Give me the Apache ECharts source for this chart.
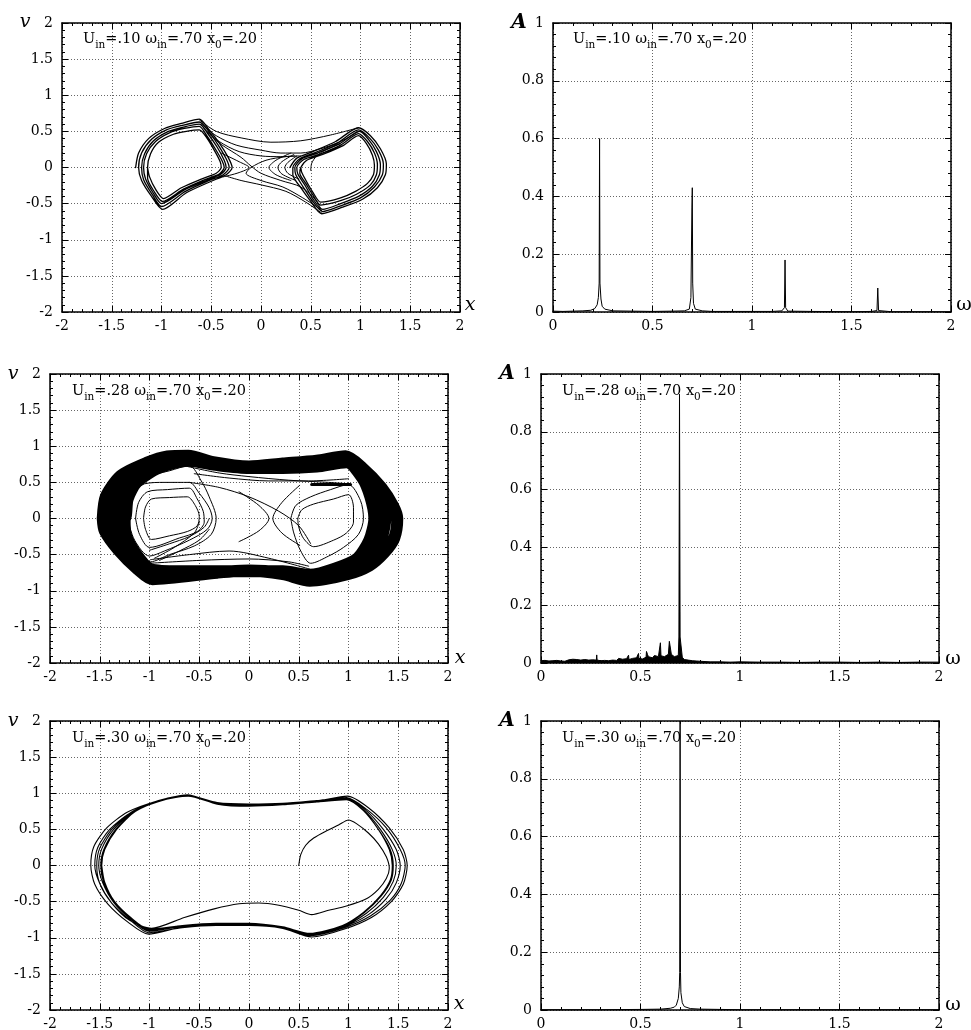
<!DOCTYPE html>
<html>
<head>
<meta charset="utf-8">
<title>Phase portraits and spectra</title>
<script src="https://cdn.jsdelivr.net/npm/echarts/dist/echarts.min.js"></script>
<style>
  html, body { margin: 0; padding: 0; background: #fff; }
  #container { width: 971px; height: 1030px; }
</style>
</head>
<body>
<div id="container"></div>
<script type="text/javascript">

// ---- data ----
var uIn = ['.10', '.28', '.30'];
var omegaIn = '.70';
var x0 = '.20';

var phaseRange = [-2, 2];   // x and v axes of the left panels
var phaseStep = 0.5;
var omegaRange = [0, 2];
var omegaStep = 0.5;
var ampRange = [0, 1];
var ampStep = 0.2;

// U = .10 : left well, several turns
var phase10Left = [
  [-1.26,0],[-1.23,0.2],[-1.13,0.4],[-0.97,0.54],[-0.8,0.61],[-0.62,0.67],[-0.52,0.52],[-0.42,0.34],[-0.33,0.14],[-0.29,0],[-0.35,-0.1],[-0.5,-0.19],[-0.75,-0.35],[-0.99,-0.58],[-1.1,-0.4],[-1.2,-0.18],
  [-1.23,0],[-1.2,0.2],[-1.1,0.39],[-0.95,0.52],[-0.8,0.58],[-0.62,0.63],[-0.52,0.49],[-0.43,0.31],[-0.35,0.12],[-0.32,0],[-0.38,-0.1],[-0.52,-0.18],[-0.76,-0.33],[-1.0,-0.54],[-1.09,-0.38],[-1.18,-0.17],
  [-1.2,0],[-1.17,0.19],[-1.08,0.37],[-0.93,0.5],[-0.78,0.56],[-0.62,0.6],[-0.53,0.46],[-0.44,0.28],[-0.37,0.1],[-0.35,0],[-0.4,-0.09],[-0.55,-0.18],[-0.77,-0.31],[-1.0,-0.5],[-1.08,-0.36],[-1.16,-0.16],
  [-1.18,0],[-1.15,0.19],[-1.06,0.36],[-0.92,0.48],[-0.77,0.54],[-0.62,0.57],[-0.54,0.43],[-0.46,0.26],[-0.39,0.09],[-0.37,0],[-0.42,-0.09],[-0.57,-0.17],[-0.78,-0.3],[-0.99,-0.47],[-1.07,-0.34],[-1.14,-0.15],
  [-1.14,0],[-1.11,0.19],[-1.03,0.35],[-0.88,0.46],[-0.75,0.5],[-0.62,0.52],[-0.54,0.4],[-0.47,0.24],[-0.41,0.08],[-0.4,0],[-0.45,-0.08],[-0.6,-0.16],[-0.8,-0.28],[-0.98,-0.43],[-1.06,-0.3],[-1.12,-0.13],[-1.14,0]
];
// U = .10 : right well
var phase10Right = [
  [0.29,0],[0.36,0.13],[0.52,0.22],[0.75,0.36],[0.98,0.55],[1.1,0.44],[1.2,0.26],[1.26,0.05],[1.25,-0.1],[1.17,-0.28],[1.02,-0.44],[0.82,-0.55],[0.61,-0.64],[0.5,-0.47],[0.4,-0.28],[0.32,-0.1],
  [0.32,0],[0.39,0.12],[0.55,0.21],[0.77,0.34],[0.98,0.52],[1.09,0.41],[1.18,0.24],[1.23,0.05],[1.22,-0.1],[1.14,-0.27],[1.0,-0.42],[0.8,-0.53],[0.62,-0.61],[0.51,-0.45],[0.42,-0.26],[0.35,-0.1],
  [0.34,0],[0.41,0.12],[0.57,0.2],[0.79,0.33],[0.99,0.5],[1.08,0.39],[1.16,0.22],[1.2,0.04],[1.19,-0.1],[1.12,-0.26],[0.98,-0.4],[0.8,-0.5],[0.62,-0.58],[0.52,-0.43],[0.44,-0.24],[0.37,-0.09],
  [0.36,0],[0.43,0.11],[0.6,0.19],[0.8,0.31],[0.98,0.47],[1.07,0.36],[1.14,0.2],[1.17,0.04],[1.16,-0.1],[1.1,-0.24],[0.96,-0.37],[0.8,-0.46],[0.6,-0.52],[0.52,-0.38],[0.45,-0.22],[0.39,-0.08],
  [0.4,0],[0.46,0.1],[0.62,0.18],[0.82,0.3],[0.98,0.44],[1.06,0.33],[1.12,0.17],[1.14,0.03],[1.13,-0.1],[1.07,-0.22],[0.95,-0.33],[0.8,-0.42],[0.6,-0.48],[0.52,-0.34],[0.46,-0.2],[0.41,-0.07],[0.4,0]
];
// U = .10 : crossings between the wells
var phase10Paths = [
  [[-0.62,0.66],[-0.45,0.5],[-0.2,0.41],[0.1,0.35],[0.4,0.37],[0.7,0.45],[0.98,0.55]],
  [[-0.6,0.6],[-0.45,0.44],[-0.25,0.31],[0,0.24],[0.2,0.2],[0.4,0.2],[0.6,0.26],[0.8,0.36],[0.98,0.5]],
  [[-0.58,0.55],[-0.42,0.36],[-0.22,0.22],[0,0.16],[0.2,0.15],[0.34,0.16]],
  [[-0.55,0.5],[-0.4,0.32],[-0.2,0.14],[-0.1,0.02],[0,-0.08],[0.2,-0.18],[0.4,-0.27],[0.55,-0.45],[0.61,-0.6]],
  [[0.61,-0.63],[0.45,-0.48],[0.25,-0.33],[0,-0.24],[-0.2,-0.18],[-0.35,-0.12]],
  [[0.6,-0.58],[0.42,-0.42],[0.22,-0.27],[0,-0.18],[-0.15,-0.08],[-0.1,0],[0.05,0.1],[0.25,0.15],[0.4,0.16]],
  [[-0.4,0.2],[-0.22,0.08],[-0.12,0],[-0.22,-0.07],[-0.38,-0.13]],
  [[0.3,0.2],[0.15,0.1],[0.08,0],[0.15,-0.1],[0.3,-0.18]],
  [[0.33,0.18],[0.21,0.08],[0.17,0],[0.21,-0.09],[0.35,-0.18]],
  [[0.36,0.16],[0.27,0.07],[0.24,0],[0.27,-0.08],[0.38,-0.16]],
  [[0.5,-0.04],[0.51,0.06],[0.56,0.16],[0.66,0.25],[0.8,0.33]]
];

// U = .28 : the dense outer band (three passes drawn wide)
var phase28Band = [
  [-1.47,0],[-1.44,0.3],[-1.29,0.59],[-1.03,0.77],[-0.82,0.86],[-0.61,0.87],[-0.36,0.78],[0,0.72],[0.34,0.76],[0.68,0.8],[0.97,0.86],[1.14,0.7],[1.33,0.43],[1.45,0.17],[1.49,0],[1.46,-0.27],[1.36,-0.47],[1.21,-0.65],[0.99,-0.77],[0.61,-0.86],[0.34,-0.77],[0,-0.72],[-0.32,-0.75],[-0.97,-0.84],[-1.12,-0.7],[-1.31,-0.44],[-1.45,-0.17],[-1.47,0],
  [-1.36,0],[-1.33,0.29],[-1.21,0.55],[-0.97,0.74],[-0.75,0.83],[-0.61,0.84],[-0.34,0.76],[0,0.71],[0.34,0.73],[0.68,0.76],[0.97,0.82],[1.14,0.63],[1.28,0.37],[1.35,0.15],[1.37,0],[1.33,-0.28],[1.23,-0.51],[1.1,-0.66],[0.93,-0.74],[0.61,-0.82],[0.34,-0.75],[0,-0.72],[-0.32,-0.74],[-0.98,-0.77],[-1.13,-0.6],[-1.27,-0.33],[-1.35,-0.17],[-1.36,0],
  [-1.25,0],[-1.22,0.27],[-1.13,0.5],[-0.91,0.7],[-0.61,0.8],[-0.32,0.74],[0,0.7],[0.34,0.7],[0.68,0.72],[0.98,0.78],[1.14,0.56],[1.22,0.3],[1.26,0],[1.21,-0.3],[1.09,-0.55],[0.87,-0.69],[0.61,-0.78],[0.34,-0.73],[0,-0.73],[-0.32,-0.73],[-0.7,-0.73],[-0.99,-0.7],[-1.14,-0.48],[-1.24,-0.22],[-1.25,0]
];
// U = .28 : thin passes inside the band
var phase28Paths = [
  [[-1.06,0],[-1.04,0.16],[-0.98,0.27],[-0.8,0.29],[-0.62,0.3],[-0.54,0.18],[-0.5,0.03],[-0.52,-0.1],[-0.62,-0.18],[-0.8,-0.24],[-0.98,-0.29],[-1.04,-0.15],[-1.06,0]],
  [[-1.14,0],[-1.11,0.22],[-1.02,0.37],[-0.82,0.4],[-0.6,0.42],[-0.52,0.27],[-0.46,0.1],[-0.45,-0.05],[-0.52,-0.18],[-0.7,-0.27],[-1.0,-0.4],[-1.1,-0.22],[-1.14,0]],
  [[-1.22,0],[-1.18,0.3],[-1.05,0.48],[-0.85,0.5],[-0.6,0.5],[-0.5,0.35],[-0.4,0.15],[-0.37,0],[-0.42,-0.15],[-0.6,-0.3],[-0.85,-0.45],[-1.0,-0.52],[-1.15,-0.3],[-1.22,0]],
  [[-1.24,0],[-1.2,0.35],[-1.05,0.56],[-0.8,0.66],[-0.6,0.73],[-0.48,0.52],[-0.4,0.3],[-0.33,0],[-0.38,-0.22],[-0.55,-0.38],[-0.8,-0.5],[-0.99,-0.6],[-1.15,-0.35],[-1.24,0]],
  [[-1.0,-0.44],[-0.8,-0.35],[-0.6,-0.25],[-0.45,-0.12],[-0.4,0]],
  [[-0.95,-0.55],[-0.75,-0.4],[-0.55,-0.2],[-0.5,-0.05]],
  [[-0.9,-0.58],[-0.7,-0.45],[-0.5,-0.3],[-0.4,-0.15]],
  [[0.49,0],[0.53,0.12],[0.65,0.2],[0.85,0.27],[1.0,0.33],[1.05,0.15],[1.05,-0.05],[0.98,-0.2],[0.85,-0.3],[0.65,-0.39],[0.55,-0.28],[0.5,-0.12],[0.49,0]],
  [[0.42,0],[0.47,0.18],[0.62,0.3],[0.82,0.4],[1.0,0.47],[1.12,0.25],[1.15,0],[1.1,-0.22],[0.95,-0.4],[0.8,-0.52],[0.62,-0.62],[0.52,-0.45],[0.45,-0.2],[0.42,0]],
  [[-0.1,0.37],[0.1,0.18],[0.2,0],[0.1,-0.17],[-0.1,-0.32]],
  [[0.51,0.46],[0.33,0.22],[0.24,0],[0.33,-0.2],[0.51,-0.37]],
  [[-0.62,0.72],[-0.3,0.63],[0,0.58],[0.4,0.53],[0.8,0.5],[1.0,0.48]],
  [[-0.55,0.62],[-0.2,0.56],[0.2,0.52],[0.6,0.52],[1.0,0.55]],
  [[-0.6,0.5],[-0.3,0.43],[0,0.3],[0.3,0.1],[0.5,-0.1],[0.62,-0.35]],
  [[-0.99,-0.57],[-0.6,-0.5],[-0.2,-0.45],[0.2,-0.55],[0.61,-0.7]],
  [[-1.0,-0.62],[-0.5,-0.58],[0,-0.56],[0.4,-0.6],[0.6,-0.66]]
];
var phase28Bar = [[0.63,0.47],[1.02,0.47]];

// U = .30 : transient from (0.5, 0) then the settling limit cycle
var phase30 = [
  [0.5,0],[0.52,0.15],[0.57,0.28],[0.65,0.38],[0.78,0.48],[0.9,0.56],[1.0,0.63],[1.08,0.58],[1.2,0.45],[1.3,0.3],[1.38,0.12],[1.41,-0.04],[1.38,-0.18],[1.3,-0.33],[1.18,-0.46],[0.98,-0.56],[0.8,-0.62],[0.63,-0.68],[0.5,-0.62],[0.3,-0.55],[0.1,-0.52],[-0.1,-0.53],[-0.35,-0.6],[-0.65,-0.72],[-0.98,-0.87],
  [-1.2,-0.76],[-1.38,-0.52],[-1.5,-0.25],[-1.55,0],[-1.52,0.25],[-1.4,0.5],[-1.2,0.72],[-0.92,0.88],[-0.62,0.97],[-0.32,0.87],[0,0.85],[0.34,0.86],[0.68,0.9],[0.98,0.94],[1.18,0.78],[1.38,0.52],[1.52,0.22],[1.57,0],[1.53,-0.25],[1.42,-0.48],[1.22,-0.7],[0.96,-0.86],[0.62,-0.97],[0.34,-0.86],[0,-0.82],[-0.33,-0.82],[-0.67,-0.85],[-1.01,-0.95],
  [-1.22,-0.78],[-1.42,-0.53],[-1.55,-0.26],[-1.59,0],[-1.56,0.26],[-1.43,0.52],[-1.22,0.74],[-0.93,0.89],[-0.62,0.98],[-0.32,0.86],[0,0.84],[0.34,0.85],[0.68,0.89],[0.99,0.96],[1.2,0.8],[1.41,0.52],[1.55,0.22],[1.59,0],[1.55,-0.26],[1.43,-0.5],[1.23,-0.72],[0.96,-0.88],[0.63,-0.99],[0.34,-0.87],[0,-0.83],[-0.33,-0.83],[-0.67,-0.86],[-1.01,-0.93],
  [-1.2,-0.75],[-1.38,-0.52],[-1.5,-0.25],[-1.53,0],[-1.5,0.24],[-1.38,0.5],[-1.18,0.74],[-0.91,0.9],[-0.61,0.97],[-0.32,0.86],[0,0.83],[0.34,0.85],[0.68,0.89],[0.98,0.93],[1.17,0.77],[1.35,0.5],[1.48,0.22],[1.52,0],[1.48,-0.24],[1.38,-0.46],[1.2,-0.68],[0.95,-0.85],[0.62,-0.96],[0.34,-0.86],[0,-0.81],[-0.33,-0.81],[-0.67,-0.84],[-1.01,-0.91],
  [-1.19,-0.74],[-1.36,-0.51],[-1.47,-0.24],[-1.51,0],[-1.48,0.23],[-1.36,0.5],[-1.16,0.75],[-0.9,0.9],[-0.61,0.97],[-0.32,0.85],[0,0.82],[0.34,0.84],[0.68,0.88],[0.98,0.92],[1.16,0.76],[1.32,0.5],[1.44,0.22],[1.48,0],[1.45,-0.22],[1.35,-0.44],[1.18,-0.66],[0.95,-0.84],[0.61,-0.95],[0.34,-0.86],[0,-0.81],[-0.33,-0.81],[-0.67,-0.84],[-1.01,-0.9],
  [-1.19,-0.74],[-1.36,-0.51],[-1.46,-0.24],[-1.49,0],[-1.46,0.22],[-1.34,0.5],[-1.15,0.75],[-0.9,0.9],[-0.61,0.97],[-0.32,0.86],[0,0.83],[0.34,0.85],[0.68,0.89],[0.98,0.92],[1.15,0.76],[1.3,0.5],[1.42,0.22],[1.45,0],[1.43,-0.2],[1.33,-0.42],[1.16,-0.65],[0.95,-0.83],[0.61,-0.95],[0.34,-0.86],[0,-0.8],[-0.33,-0.8],[-0.67,-0.83],[-1.01,-0.89],
  [-1.18,-0.74],[-1.35,-0.51],[-1.45,-0.24],[-1.48,0],[-1.45,0.22],[-1.33,0.5],[-1.14,0.75],[-0.89,0.9],[-0.61,0.96],[-0.32,0.85],[0,0.82],[0.34,0.84],[0.68,0.88],[0.98,0.91],[1.15,0.76],[1.3,0.5],[1.41,0.22],[1.44,0],[1.42,-0.2],[1.32,-0.42],[1.15,-0.65],[0.94,-0.83],[0.61,-0.94],[0.34,-0.85],[0,-0.8],[-0.33,-0.8],[-0.67,-0.83],[-1.01,-0.88],
  [-1.18,-0.73],[-1.35,-0.5],[-1.45,-0.23],[-1.48,0]
];

// spectra [omega, A]
var spec10 = [
  [0,0.003],[0.05,0.002],[0.1,0.003],[0.15,0.004],[0.19,0.006],[0.21,0.012],[0.222,0.025],[0.228,0.05],[0.232,0.1],[0.234,0.6],[0.236,0.1],[0.241,0.045],[0.247,0.02],[0.26,0.01],[0.3,0.004],
  [0.4,0.003],[0.5,0.002],[0.6,0.003],[0.66,0.004],[0.685,0.01],[0.693,0.05],[0.698,0.36],[0.7,0.43],[0.702,0.1],[0.706,0.03],[0.715,0.01],[0.75,0.004],[0.8,0.002],
  [0.9,0.002],[1.0,0.002],[1.1,0.002],[1.15,0.004],[1.163,0.015],[1.166,0.18],[1.169,0.015],[1.18,0.003],[1.3,0.002],[1.5,0.001],[1.6,0.002],[1.628,0.005],[1.632,0.083],[1.636,0.005],[1.7,0.001],[1.85,0.001],[2,0.001]
];
var spec28 = [
  [0,0.008],[0.01,0.005],[0.02,0.009],[0.03,0.006],[0.04,0.007],[0.05,0.004],[0.06,0.008],[0.07,0.006],[0.08,0.009],[0.09,0.005],
  [0.1,0.007],[0.11,0.01],[0.12,0.006],[0.13,0.008],[0.14,0.011],[0.15,0.007],[0.16,0.013],[0.17,0.008],[0.18,0.012],[0.19,0.007],
  [0.2,0.01],[0.21,0.006],[0.22,0.012],[0.23,0.008],[0.24,0.01],[0.25,0.007],[0.26,0.011],[0.27,0.009],[0.278,0.01],[0.28,0.028],[0.282,0.01],[0.29,0.01],
  [0.3,0.008],[0.31,0.012],[0.32,0.009],[0.33,0.013],[0.34,0.008],[0.35,0.012],[0.36,0.01],[0.37,0.014],[0.38,0.009],[0.39,0.016],
  [0.4,0.01],[0.41,0.013],[0.42,0.009],[0.43,0.015],[0.438,0.012],[0.44,0.027],[0.442,0.012],[0.45,0.012],[0.46,0.016],[0.47,0.011],[0.48,0.018],[0.488,0.015],[0.49,0.033],[0.492,0.016],
  [0.5,0.018],[0.51,0.014],[0.52,0.02],[0.528,0.02],[0.53,0.04],[0.535,0.03],[0.54,0.022],[0.55,0.02],[0.56,0.018],[0.57,0.026],[0.58,0.02],[0.59,0.022],
  [0.597,0.025],[0.6,0.07],[0.603,0.025],[0.61,0.024],[0.62,0.022],[0.63,0.024],[0.64,0.03],[0.645,0.075],[0.65,0.08],[0.655,0.03],[0.66,0.024],[0.67,0.022],[0.68,0.02],[0.69,0.026],
  [0.693,0.09],[0.696,0.93],[0.699,0.09],[0.71,0.02],[0.72,0.012],[0.73,0.015],[0.74,0.01],[0.75,0.012],[0.76,0.008],[0.77,0.01],[0.78,0.007],
  [0.8,0.006],[0.85,0.004],[0.9,0.004],[0.95,0.003],[1.0,0.004],[1.1,0.003],[1.2,0.003],[1.3,0.002],[1.4,0.003],[1.5,0.003],
  [1.6,0.002],[1.7,0.003],[1.8,0.002],[1.9,0.003],[2.0,0.003]
];
var spec30 = [
  [0,0.001],[0.3,0.001],[0.5,0.002],[0.6,0.003],[0.65,0.006],[0.67,0.01],[0.68,0.017],[0.69,0.04],[0.695,0.08],[0.697,0.13],
  [0.699,1.0],[0.701,0.13],[0.703,0.06],[0.71,0.025],[0.72,0.012],[0.75,0.005],[0.8,0.003],[1.0,0.001],[1.5,0.001],[2,0.001]
];

// ---- layout ----
var FONT = 'DejaVu Serif';
var panels = [
  { left: 62, top: 23, phase: true },
  { left: 553, top: 23, phase: false },
  { left: 50, top: 374, phase: true },
  { left: 541, top: 374, phase: false },
  { left: 50, top: 721, phase: true },
  { left: 541, top: 721, phase: false }
];
var W = 398, H = 289;

var grid = [], xAxis = [], yAxis = [], series = [];

function frameAxis(g, pos, min, max, step, main) {
  return {
    type: 'value', gridIndex: g, position: pos, min: min, max: max, interval: step,
    axisLine: { show: true, onZero: false, lineStyle: { color: '#000', width: 1.5 } },
    axisTick: { show: true, inside: true, length: 6, lineStyle: { color: '#000', width: 1 } },
    minorTick: { show: true, splitNumber: 5, length: 3, lineStyle: { color: '#000', width: 1 } },
    axisLabel: main ? { show: true, color: '#000', fontFamily: FONT, fontSize: 14, margin: pos === 'left' ? 9 : 7 } : { show: false },
    splitLine: main ? { show: true, lineStyle: { color: '#666', width: 1, type: [1, 2] } } : { show: false },
    minorSplitLine: { show: false }
  };
}

panels.forEach(function (p, g) {
  grid.push({ left: p.left, top: p.top, width: W, height: H, outerBoundsMode: 'none' });
  var xr = p.phase ? phaseRange : omegaRange;
  var xs = p.phase ? phaseStep : omegaStep;
  var yr = p.phase ? phaseRange : ampRange;
  var ys = p.phase ? phaseStep : ampStep;
  xAxis.push(frameAxis(g, 'bottom', xr[0], xr[1], xs, true));
  xAxis.push(frameAxis(g, 'top', xr[0], xr[1], xs, false));
  yAxis.push(frameAxis(g, 'left', yr[0], yr[1], ys, true));
  yAxis.push(frameAxis(g, 'right', yr[0], yr[1], ys, false));
});

function path(data, g, width, smooth, extra) {
  var s = {
    type: 'line', xAxisIndex: 2 * g, yAxisIndex: 2 * g, data: data,
    symbol: 'none', smooth: smooth, silent: true, animation: false,
    lineStyle: { color: '#000', width: width, join: 'round', cap: 'round' }
  };
  if (extra) Object.assign(s, extra);
  return s;
}

// row 1
series.push(path(phase10Left, 0, 1.3, 0.25));
series.push(path(phase10Right, 0, 1.3, 0.25));
phase10Paths.forEach(function (d) { series.push(path(d, 0, 1, 0.3)); });
series.push(path(spec10, 1, 1, false));
// row 2
series.push(path(phase28Band, 2, 12, 0.25));
phase28Paths.forEach(function (d) { series.push(path(d, 2, 1, 0.3)); });
series.push(path(phase28Bar, 2, 3, false));
series.push(path(spec28, 3, 1, false, { areaStyle: { color: '#000', opacity: 1 } }));
// row 3
series.push(path(phase30, 4, 1.1, 0.25));
series.push(path(spec30, 5, 1, false));

// ---- texts ----
var rich = {
  m: { fontFamily: FONT, fontSize: 14.5, lineHeight: 24, verticalAlign: 'middle', fill: '#000' },
  s: { fontFamily: FONT, fontSize: 10.5, lineHeight: 24, verticalAlign: 'bottom', fill: '#000' }
};
function note(u) {
  return '{m|U}{s|in}{m|=' + u + ' \u03c9}{s|in}{m|=' + omegaIn + ' x}{s|0}{m|=' + x0 + '}';
}
var graphics = [];
var notePos = [[83, 27], [573, 27], [72, 379], [562, 379], [72, 726], [562, 726]];
notePos.forEach(function (pt, i) {
  graphics.push({
    type: 'text', x: pt[0], y: pt[1], silent: true, z: 100,
    style: { text: note(uIn[Math.floor(i / 2)]), rich: rich, align: 'left', verticalAlign: 'top' }
  });
});
function axisName(t, x, y, font) {
  graphics.push({
    type: 'text', x: x, y: y, silent: true, z: 100,
    style: { text: t, font: font, fill: '#000', align: 'center', verticalAlign: 'middle' }
  });
}
var italic = 'italic 19px "DejaVu Serif"';
axisName('v', 25, 22, italic);
axisName('v', 13, 374, italic);
axisName('v', 13, 721, italic);
axisName('x', 470, 305, italic);
axisName('x', 460, 658, italic);
axisName('x', 459, 1004, italic);
axisName('A', 519, 23, 'italic bold 20px "DejaVu Serif"');
axisName('A', 507, 374, 'italic bold 20px "DejaVu Serif"');
axisName('A', 507, 721, 'italic bold 20px "DejaVu Serif"');
axisName('\u03c9', 964, 305, '19px "DejaVu Serif"');
axisName('\u03c9', 953, 659, '19px "DejaVu Serif"');
axisName('\u03c9', 953, 1005, '19px "DejaVu Serif"');

var dom = document.getElementById('container');
var myChart = echarts.init(dom, null, { renderer: 'canvas' });
var option = {
  backgroundColor: '#fff',
  animation: false,
  grid: grid,
  xAxis: xAxis,
  yAxis: yAxis,
  series: series,
  graphic: { elements: graphics }
};
myChart.setOption(option);
window.addEventListener('resize', myChart.resize);
</script>
</body>
</html>
